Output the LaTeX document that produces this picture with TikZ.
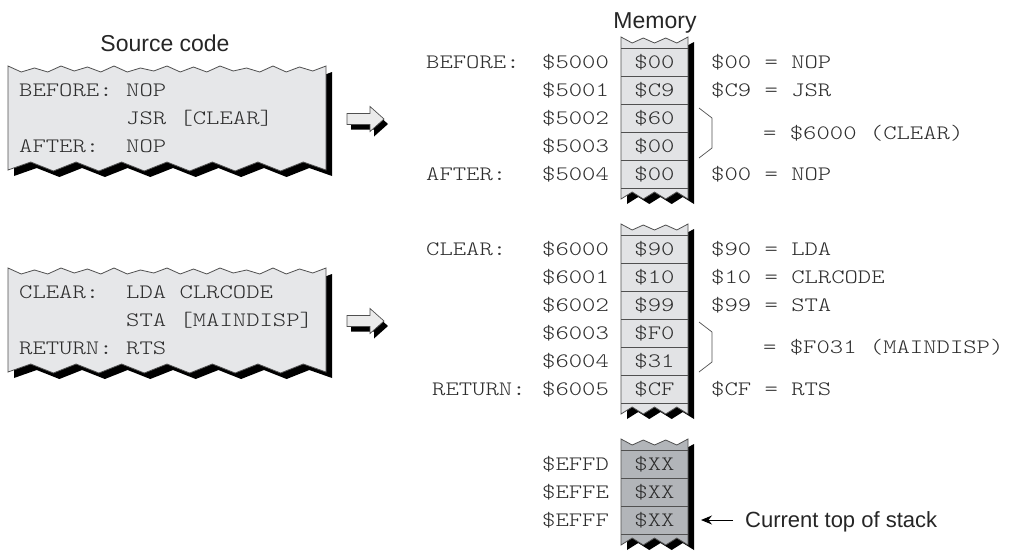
\documentclass[tikz,border=0pt]{standalone}
\usepackage{fontspec}
\setmainfont{Liberation Sans}
\newfontfamily\courfont[FakeStretch=1.24]{lmmonolt10-regular.otf}
\usetikzlibrary{arrows.meta}
\definecolor{cellA}{RGB}{226,227,229}
\definecolor{cellB}{RGB}{178,181,185}
\definecolor{boxfill}{RGB}{230,231,233}
\definecolor{txtc}{RGB}{45,45,45}
\definecolor{edgec}{RGB}{80,80,80}
\tikzset{
  mono/.style={font=\courfont\fontsize{20.5}{24}\selectfont, text=txtc, inner sep=0pt,
    text height=12.5pt, text depth=0pt, anchor=west},
  cellt/.style={mono, anchor=center},
  sanslbl/.style={font=\fontsize{23}{26}\selectfont, text=black!85, inner sep=0pt, anchor=base},
  edgeline/.style={draw=edgec, line width=0.8pt},
}
% memory column shape: #1 top y, #2 y of last row line, #3 path options
\newcommand{\colshape}[3]{\path[#3] (621,#1) -- (632.2,#1+6) -- (643.3,#1+1) -- (654.5,#1+6) -- (665.7,#1+1) -- (676.8,#1+6) -- (688,#1)
  -- (688,#2+11) -- (676.8,#2+4) -- (665.7,#2+11) -- (654.5,#2+4) -- (643.3,#2+11) -- (632.2,#2+4) -- (621,#2+11) -- cycle;}
% source code box shape, #1 path options
\newcommand{\srcshape}[1]{\path[#1] (8,66) -- (21.25,72) -- (34.5,68) -- (47.75,72) -- (61,66) -- (74.25,71) -- (87.5,67) -- (100.75,72)
  -- (114,66) -- (127.25,72) -- (140.5,68) -- (153.75,71) -- (167,66) -- (180.25,72) -- (193.5,67) -- (206.75,72)
  -- (220,66) -- (233.25,71) -- (246.5,68) -- (259.75,72) -- (273,66) -- (286.25,72) -- (299.5,67) -- (312.75,71) -- (326,66)
  -- (326,170) -- (303.3,162) -- (280.6,171) -- (257.9,162) -- (235.1,171) -- (212.4,162) -- (189.7,171) -- (167,162)
  -- (144.3,171) -- (121.6,162) -- (98.9,171) -- (76.1,162) -- (53.4,171) -- (30.7,162) -- (8,170) -- cycle;}
% block arrow, #1 centre y, #2 options
\newcommand{\blockarrow}[2]{\path[#2] (347,#1-5.5) -- (370,#1-5.5) -- (370,#1-12.5) -- (384,#1) -- (370,#1+12.5) -- (370,#1+5.5) -- (347,#1+5.5) -- cycle;}
\begin{document}
\begin{tikzpicture}[x=1pt,y=-1pt]
\useasboundingbox[fill=white] (0,0) rectangle (1013,550);

% ---------- source code boxes ----------
\node[sanslbl] (srctitle) at (165,51) {Source code};
\foreach \dy in {0,202}{
  \srcshape{fill=black, shift={(6,\dy+6)}}
  \srcshape{fill=boxfill, edgeline, shift={(0,\dy)}}
}
\node[mono] (l1a) at (19,90) {BEFORE:};
\node[mono] (l1b) at (126,90) {NOP};
\node[mono] (l2b) at (126,118) {JSR [CLEAR]};
\node[mono] (l3a) at (19,146) {AFTER:};
\node[mono] (l3b) at (126,146) {NOP};

\node[mono] (m1a) at (19,292) {CLEAR:};
\node[mono] (m1b) at (126,292) {LDA CLRCODE};
\node[mono] (m2b) at (126,320) {STA [MAINDISP]};
\node[mono] (m3a) at (19,348) {RETURN:};
\node[mono] (m3b) at (126,348) {RTS};

% block arrows
\foreach \cy in {119,321}{
  \blockarrow{\cy}{fill=black, shift={(4,5)}}
  \blockarrow{\cy}{fill=white!92!black, draw=edgec, line width=0.7pt}
}

% ---------- memory columns ----------
\node[sanslbl] (memtitle) at (655,28) {Memory};

% column 1
\colshape{37}{188}{fill=black, shift={(6,5)}}
\colshape{37}{188}{fill=cellA}
\foreach \k in {0,...,5}{\draw[edgeline] (621,48+28*\k) -- (688,48+28*\k);}
\colshape{37}{188}{edgeline}

% column 2
\colshape{224}{403}{fill=black, shift={(6,5)}}
\colshape{224}{403}{fill=cellA}
\foreach \k in {0,...,6}{\draw[edgeline] (621,235+28*\k) -- (688,235+28*\k);}
\colshape{224}{403}{edgeline}

% stack column
\colshape{439}{534}{fill=black, shift={(6,5)}}
\colshape{439}{534}{fill=cellB}
\foreach \k in {0,...,3}{\draw[edgeline] (621,450+28*\k) -- (688,450+28*\k);}
\colshape{439}{534}{edgeline}

% column 1 contents
\node[mono] (b1) at (426,62) {BEFORE:};
\node[mono] (a5000) at (542,62) {\$5000};
\node[mono] (a5001) at (542,90) {\$5001};
\node[mono] (a5002) at (542,118) {\$5002};
\node[mono] (a5003) at (542,146) {\$5003};
\node[mono] (a5004) at (542,174) {\$5004};
\node[mono] (af1) at (426,174) {AFTER:};
\node[cellt] (c5000) at (654.5,62) {\$00};
\node[cellt] (c5001) at (654.5,90) {\$C9};
\node[cellt] (c5002) at (654.5,118) {\$60};
\node[cellt] (c5003) at (654.5,146) {\$00};
\node[cellt] (c5004) at (654.5,174) {\$00};
\node[mono] (d5000) at (711,62) {\$00 = NOP};
\node[mono] (d5001) at (711,90) {\$C9 = JSR};
\node[mono] (d5002) at (763,133) {= \$6000 (CLEAR)};
\node[mono] (d5004) at (711,174) {\$00 = NOP};
\draw[edgec, line width=0.7pt] (699,108) -- (712,118) -- (712,148) -- (699,158);

% column 2 contents
\node[mono] (cl) at (426,249) {CLEAR:};
\node[mono] (rt) at (432,389) {RETURN:};
\node[mono] (a6000) at (542,249) {\$6000};
\node[mono] (a6001) at (542,277) {\$6001};
\node[mono] (a6002) at (542,305) {\$6002};
\node[mono] (a6003) at (542,333) {\$6003};
\node[mono] (a6004) at (542,361) {\$6004};
\node[mono] (a6005) at (542,389) {\$6005};
\node[cellt] (c6000) at (654.5,249) {\$90};
\node[cellt] (c6001) at (654.5,277) {\$10};
\node[cellt] (c6002) at (654.5,305) {\$99};
\node[cellt] (c6003) at (654.5,333) {\$F0};
\node[cellt] (c6004) at (654.5,361) {\$31};
\node[cellt] (c6005) at (654.5,389) {\$CF};
\node[mono] (d6000) at (711,249) {\$90 = LDA};
\node[mono] (d6001) at (711,277) {\$10 = CLRCODE};
\node[mono] (d6002) at (711,305) {\$99 = STA};
\node[mono] (d6003) at (763,347) {= \$F031 (MAINDISP)};
\node[mono] (d6005) at (711,389) {\$CF = RTS};
\draw[edgec, line width=0.7pt] (699,322) -- (712,332) -- (712,362) -- (699,372);

% stack contents
\node[mono] (aeffd) at (542,464) {\$EFFD};
\node[mono] (aeffe) at (542,492) {\$EFFE};
\node[mono] (aefff) at (542,520) {\$EFFF};
\node[cellt] (ceffd) at (654.5,464) {\$XX};
\node[cellt] (ceffe) at (654.5,492) {\$XX};
\node[cellt] (cefff) at (654.5,520) {\$XX};

\coordinate (topptr) at (701,520);
\node[font=\fontsize{22}{25}\selectfont, text=black!85, inner sep=0pt, anchor=west,
      text height=15.8pt, text depth=0pt] (cur) at (745,520) {Current top of stack};
\draw[line width=1pt, shorten <=12pt, -{Stealth[length=11pt,width=9pt]}] (cur.west) -- (topptr);
\end{tikzpicture}
\end{document}
